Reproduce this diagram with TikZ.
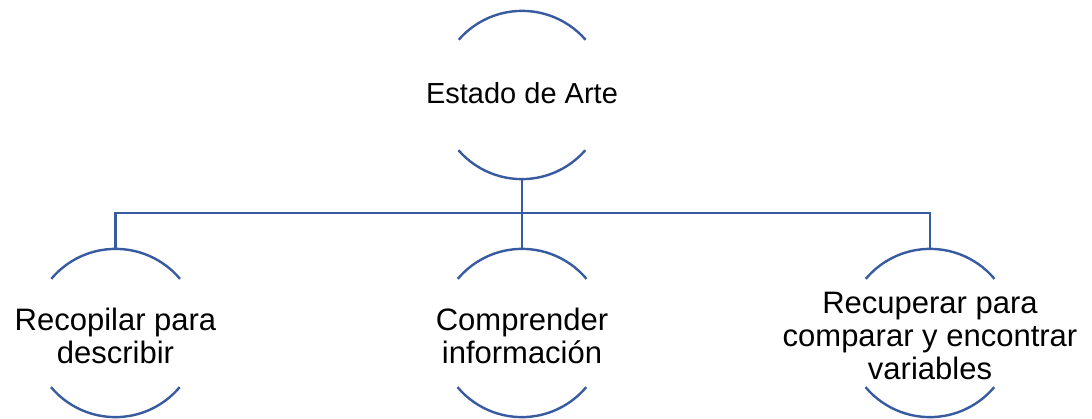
\documentclass[tikz,border=0pt]{standalone}
\usepackage{fontspec}
\setmainfont{Liberation Sans}
\definecolor{ln}{RGB}{56,90,160}
\begin{document}
\begin{tikzpicture}[x=1pt,y=1pt,
  circ/.style={circle, minimum size=168pt, inner sep=0pt},
  arcline/.style={draw=ln, line width=2.4pt},
  conn/.style={draw=ln, line width=2.4pt},
  toplabel/.style={font=\fontsize{29}{33}\selectfont, align=center, inner sep=0pt},
  childlabel/.style={font=\fontsize{31}{33}\selectfont, align=center, inner sep=0pt}]
\useasboundingbox (0,0) rectangle (1092,418);
% circles (invisible node outlines, only arcs drawn)
\node[circ] (top) at (522,323) {};
\node[circ] (c1) at (115.5,85) {};
\node[circ] (c2) at (522,85) {};
\node[circ] (c3) at (930,85) {};
% arcs
\draw[arcline] (top.41) arc[start angle=41, end angle=139, radius=84];
\draw[arcline] (top.221) arc[start angle=221, end angle=319, radius=84];
\foreach \n in {c1,c2,c3}{
  \draw[arcline] (\n.40) arc[start angle=40, end angle=140, radius=84];
  \draw[arcline] (\n.220) arc[start angle=220, end angle=320, radius=84];
}
% labels
\node[toplabel, anchor=base] (ttop) at (522,314.7) {Estado de Arte};
\node[childlabel] (t1) at (115.5,82) {Recopilar para\\describir};
\node[childlabel] (t2) at (522,82) {Comprender\\información};
\node[childlabel] (t3) at (930,82) {Recuperar para\\comparar y encontrar\\variables};
% connectors
\coordinate (j) at (522,205);
\draw[conn] (top.south) -- (c2.north);
\draw[conn] (j) -| (c1.north);
\draw[conn] (j) -| (c3.north);
\end{tikzpicture}
\end{document}
